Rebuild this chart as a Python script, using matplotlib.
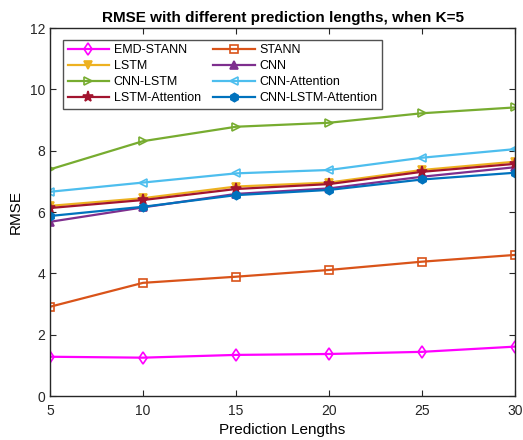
import matplotlib
matplotlib.use("Agg")
import matplotlib.pyplot as plt

plt.rcParams["font.family"] = ["Liberation Sans", "DejaVu Sans"]

pred_lengths = [5, 10, 15, 20, 25, 30]

emd_stann = [1.28, 1.25, 1.34, 1.37, 1.44, 1.61]
stann = [2.91, 3.69, 3.89, 4.11, 4.38, 4.60]
lstm = [6.20, 6.45, 6.83, 6.96, 7.37, 7.64]
cnn = [5.68, 6.15, 6.59, 6.77, 7.15, 7.46]
cnn_lstm = [7.39, 8.31, 8.78, 8.91, 9.22, 9.41]
cnn_attention = [6.66, 6.96, 7.26, 7.37, 7.77, 8.05]
lstm_attention = [6.13, 6.39, 6.75, 6.91, 7.31, 7.57]
cnn_lstm_attention = [5.87, 6.17, 6.55, 6.72, 7.06, 7.28]

series = [
    ("EMD-STANN", emd_stann, (1.0, 0.0, 1.0), "d", False),
    ("STANN", stann, (0.85, 0.325, 0.098), "s", False),
    ("LSTM", lstm, (0.929, 0.694, 0.125), "v", True),
    ("CNN", cnn, (0.494, 0.184, 0.556), "^", True),
    ("CNN-LSTM", cnn_lstm, (0.466, 0.674, 0.188), ">", False),
    ("CNN-Attention", cnn_attention, (0.301, 0.745, 0.933), "<", False),
    ("LSTM-Attention", lstm_attention, (0.635, 0.078, 0.184), "*", True),
    ("CNN-LSTM-Attention", cnn_lstm_attention, (0.0, 0.447, 0.741), "h", True),
]

fig = plt.figure(figsize=(5.23, 4.40), dpi=100)
ax = fig.add_axes([50 / 523, 44 / 440, 465 / 523, 368 / 440])

handles = []
for name, vals, color, marker, filled in series:
    ms = 8 if marker == "*" else 6
    line, = ax.plot(pred_lengths, vals, color=color, marker=marker, markersize=ms,
                    linewidth=1.6, markeredgewidth=1.2,
                    markerfacecolor=color if filled else "none", label=name)
    handles.append(line)

ax.set_xlim(5, 30)
ax.set_ylim(0, 12)
ax.set_xticks(pred_lengths)
ax.set_yticks([0, 2, 4, 6, 8, 10, 12])
ax.tick_params(direction="in", top=True, right=True, labelsize=10,
               length=4, width=0.8, colors="#262626")
ax.tick_params(axis="x", pad=6)
for side in ax.spines.values():
    side.set_linewidth(1.0)
    side.set_color("#262626")

ax.set_title("RMSE with different prediction lengths, when K=5",
             fontsize=11, fontweight="bold", pad=4)
ax.set_xlabel("Prediction Lengths", fontsize=11, labelpad=3)
ax.set_ylabel("RMSE", fontsize=11, labelpad=5)

# legend reads row by row: reorder handles for matplotlib's column-major fill
order = handles[0::2] + handles[1::2]
leg = ax.legend(order, [h.get_label() for h in order], ncol=2,
                loc="upper left", bbox_to_anchor=(0.015, 0.985),
                fontsize=9, frameon=True, fancybox=False, edgecolor="#262626",
                handlelength=3.3, columnspacing=1.0, labelspacing=0.32,
                borderpad=0.35, handletextpad=0.4)
leg.get_frame().set_linewidth(1.0)

fig.savefig("out.png", dpi=100)
